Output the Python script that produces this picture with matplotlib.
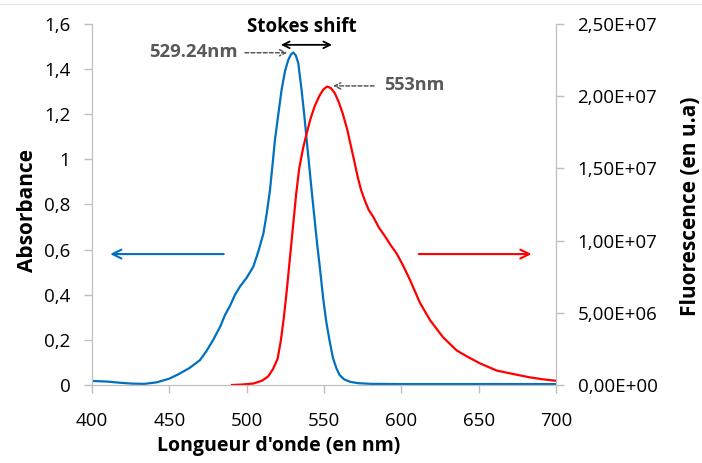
import matplotlib
matplotlib.use("Agg")
import matplotlib.pyplot as plt
from matplotlib.lines import Line2D

# absorbance (left axis)
abs_nm = [400, 410, 418, 426, 434, 442, 450, 456, 463, 469.8, 474, 478.4, 483, 486,
          489.2, 492.5, 495.7, 500, 504.3, 507.5, 510.8, 513, 515.1, 516.8, 518.3,
          520.5, 522.6, 524.8, 526.9, 528.7, 530.2, 531.8, 533.4, 535.5, 537.2, 538.8,
          540.4, 542, 543.7, 545.3, 547.5, 549.6, 551.5, 553.5, 555.8, 558, 560, 563,
          567, 572, 580, 600, 630, 660, 700]
absorbance = [0.018, 0.015, 0.01, 0.006, 0.005, 0.012, 0.028, 0.048, 0.075, 0.11, 0.15,
              0.20, 0.26, 0.31, 0.35, 0.40, 0.436, 0.475, 0.524, 0.59, 0.67, 0.76, 0.864,
              0.98, 1.086, 1.20, 1.308, 1.39, 1.44, 1.465, 1.473, 1.46, 1.425, 1.308,
              1.20, 1.086, 0.975, 0.864, 0.75, 0.643, 0.51, 0.377, 0.28, 0.20, 0.12,
              0.075, 0.045, 0.025, 0.014, 0.008, 0.005, 0.004, 0.004, 0.004, 0.004]

# fluorescence (right axis)
flu_nm = [490.5, 497, 504.3, 510, 514, 517, 520, 522, 524, 526, 528, 530, 532, 534,
          536.5, 539, 541.5, 544, 547, 549.5, 552, 554.5, 557, 559.5, 562.1, 565, 567.5,
          569.8, 571.8, 574, 576.3, 579, 581.8, 585.5, 589.4, 593, 597, 601, 605.5, 612,
          618.5, 627, 635.7, 642, 650.8, 661.6, 672.3, 683, 691, 699.3]
fluorescence = [0.0, 0.003, 0.01, 0.03, 0.06, 0.11, 0.18, 0.30, 0.46, 0.66, 0.88, 1.10,
                1.32, 1.50, 1.64, 1.75, 1.85, 1.93, 2.0, 2.045, 2.066, 2.055, 2.02, 1.96,
                1.88, 1.77, 1.65, 1.54, 1.44, 1.35, 1.28, 1.21, 1.165, 1.09, 1.03, 0.97,
                0.91, 0.83, 0.73, 0.57, 0.45, 0.33, 0.24, 0.20, 0.15, 0.10, 0.076, 0.053,
                0.04, 0.03]

x_ticks = [400, 450, 500, 550, 600, 650, 700]
left_ticks = [0, 0.2, 0.4, 0.6, 0.8, 1.0, 1.2, 1.4, 1.6]
left_labels = ["0", "0,2", "0,4", "0,6", "0,8", "1", "1,2", "1,4", "1,6"]
right_ticks = [0, 0.5, 1.0, 1.5, 2.0, 2.5]
right_labels = ["0,00E+00", "5,00E+06", "1,00E+07", "1,50E+07", "2,00E+07", "2,50E+07"]

BLUE = "#0070C0"
RED = "#FF0000"
GRAY = "#BFBFBF"
DARK = "#595959"

plt.rcParams["font.family"] = ["Open Sans", "DejaVu Sans"]

fig = plt.figure(figsize=(7.02, 4.63), dpi=100)
ax = fig.add_axes([0.131, 0.1685, 0.661, 0.78])
ax2 = ax.twinx()

ax.plot(abs_nm, absorbance, color=BLUE, lw=1.6)
ax2.plot(flu_nm, fluorescence, color=RED, lw=1.6)

ax.set_xlim(400, 700)
ax.set_ylim(0, 1.6)
ax2.set_ylim(0, 2.5)
ax.set_xticks(x_ticks)
ax.set_xticklabels([str(v) for v in x_ticks])
ax.set_yticks(left_ticks)
ax.set_yticklabels(left_labels)
ax2.set_yticks(right_ticks)
ax2.set_yticklabels(right_labels)

for a in (ax, ax2):
    for side in ("left", "right", "bottom"):
        a.spines[side].set_color(GRAY)
    a.spines["top"].set_visible(False)
    a.tick_params(colors=GRAY, labelcolor="black", labelsize=13.5, length=5.5, width=1)
ax.tick_params(axis="x", pad=14)
ax.tick_params(axis="y", pad=10)
ax2.tick_params(axis="y", pad=10)

ax.set_xlabel("Longueur d'onde (en nm)", fontsize=14, fontweight="bold")
ax.xaxis.set_label_coords(0.403, -0.142)
ax.set_ylabel("Absorbance", fontsize=15, fontweight="bold")
ax.yaxis.set_label_coords(-0.116, 0.482)
ax2.set_ylabel("Fluorescence (en u.a)", fontsize=15, fontweight="bold")
ax2.yaxis.set_label_coords(1.267, 0.494)

# direction arrows
ax.annotate("", xy=(410, 0.58), xytext=(487, 0.58),
            arrowprops=dict(arrowstyle="->", color=BLUE, lw=1.5, mutation_scale=16))
ax.annotate("", xy=(686, 0.58), xytext=(609.5, 0.58),
            arrowprops=dict(arrowstyle="->", color=RED, lw=1.5, mutation_scale=16))

# Stokes shift
ax.annotate("", xy=(522.2, 1.507), xytext=(555.2, 1.507), annotation_clip=False,
            arrowprops=dict(arrowstyle="<->", color="black", lw=1.3, mutation_scale=12,
                            shrinkA=0, shrinkB=0))
ax.text(535.5, 1.587, "Stokes shift", ha="center", va="center", fontsize=13.5,
        fontweight="bold", clip_on=False)

ax.annotate("", xy=(526.3, 1.472), xytext=(498.9, 1.472),
            arrowprops=dict(arrowstyle="->", color=DARK, lw=1.1, ls=(0, (2.5, 1.5)),
                            mutation_scale=11, shrinkA=0, shrinkB=0))
ax.text(494.4, 1.475, "529.24nm", ha="right", va="center", fontsize=13.3,
        fontweight="bold", color=DARK)

ax.annotate("", xy=(555.8, 1.325), xytext=(582.4, 1.325),
            arrowprops=dict(arrowstyle="->", color=DARK, lw=1.1, ls=(0, (2.5, 1.5)),
                            mutation_scale=11, shrinkA=0, shrinkB=0))
ax.text(589, 1.328, "553nm", ha="left", va="center", fontsize=13,
        fontweight="bold", color=DARK)

fig.add_artist(Line2D([0, 1], [1 - 4 / 463, 1 - 4 / 463], color="#E6E6E6", lw=1))

fig.savefig("out.png", dpi=100)
